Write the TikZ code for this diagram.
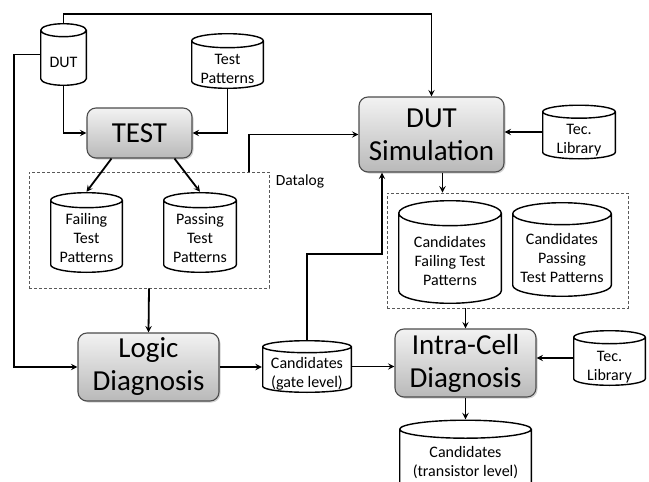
\documentclass[tikz,border=0pt]{standalone}
\usepackage{fontspec}
\setmainfont{Carlito}
\usetikzlibrary{calc,shadows}

% text of a data store, pushed down below the lid
\newcommand{\dbtext}[2]{\raisebox{0pt}[\dimexpr\height+#1\relax][\depth]{\begin{tabular}{@{}c@{}}#2\end{tabular}}}

\begin{document}
\begin{tikzpicture}[x=1pt,y=-1pt]
        \tikzset{lid/.store in=\lidr, lid=7pt}
        \tikzstyle{block}=[draw=black!70, line width=1.1pt, rounded corners=9pt, top color=gray!10, bottom color=gray!55,
                           drop shadow={opacity=0.35, shadow xshift=1.5pt, shadow yshift=-1.5pt},
                           align=center, inner sep=0pt, font=\fontsize{29}{33}\selectfont]
        \tikzstyle{store}=[rectangle, inner sep=0pt, font=\fontsize{16}{19}\selectfont,
                           path picture={
                             \draw[line width=1.4pt] let \p1=(path picture bounding box.north west),
                                                        \p2=(path picture bounding box.south east),
                                                        \n1={(\x2-\x1)/2-0.7pt} in
                               ({\x1+0.7pt},{\y1-0.7pt-\lidr}) -- ({\x1+0.7pt},{\y2+0.7pt+\lidr})
                               arc[start angle=180, end angle=360, x radius=\n1, y radius=\lidr]
                               -- ({\x2-0.7pt},{\y1-0.7pt-\lidr})
                               ({(\x1+\x2)/2},{\y1-0.7pt-\lidr}) ellipse [x radius=\n1, y radius=\lidr];
                           }]
        \tikzstyle{group}=[draw=black!65, line width=0.9pt, dash pattern=on 3pt off 2pt]
        \tikzstyle{arr}=[->, >=stealth, line width=1.8pt]

        \useasboundingbox (0,0) rectangle (649,482);
        \clip (0,0) rectangle (649,482);

        % dashed groups
        \node   (dl)    [group, minimum width=240, minimum height=116] at (149,230) {};
        \node   (d2)    [group, minimum width=241, minimum height=115] at (507.5,250.5) {};
        \node   (dlt)   [font=\fontsize{15.5}{18}\selectfont] at (300,181) {Datalog};

        % processing steps
        \node   (test)  [block, minimum width=105, minimum height=50] at (139.5,133) {TEST};
        \node   (sim)   [block, minimum width=145, minimum height=75] at (431.5,134.5) {DUT\\Simulation};
        \node   (logic) [block, minimum width=141, minimum height=68] at (148.5,367) {Logic\\Diagnosis};
        \node   (intra) [block, minimum width=141, minimum height=68] at (465.5,363) {Intra-Cell\\Diagnosis};

        % data
        \node   (dut)   [store, minimum width=47, minimum height=63, lid=6.5pt] at (63.5,54.5) {\dbtext{19pt}{DUT}};
        \node   (tp)    [store, minimum width=73, minimum height=50, lid=7pt] at (227.5,61) {\dbtext{18pt}{Test\\Patterns}};
        \node   (fail)  [store, minimum width=73, minimum height=81, lid=7.5pt] at (86.5,232.5) {\dbtext{15pt}{Failing\\Test\\Patterns}};
        \node   (pass)  [store, minimum width=74, minimum height=81, lid=7.5pt] at (200,232.5) {\dbtext{15pt}{Passing\\Test\\Patterns}};
        \node   (tec1)  [store, minimum width=74, minimum height=50, lid=6.5pt] at (579,132) {\dbtext{17pt}{Tec.\\Library}};
        \node   (cf)    [store, minimum width=104, minimum height=104, lid=12.5pt] at (450,252) {\dbtext{21pt}{Candidates\\Failing Test\\Patterns}};
        \node   (cp)    [store, minimum width=100, minimum height=95, lid=11pt] at (562,249.5) {\dbtext{21pt}{Candidates\\Passing\\Test Patterns}};
        \node   (gate)  [store, minimum width=90, minimum height=53, lid=6pt] at (307,366.5) {\dbtext{15pt}{Candidates\\(gate level)}};
        \node   (tec2)  [store, minimum width=73, minimum height=50, lid=6.5pt] at (609.5,358) {\dbtext{18pt}{Tec.\\Library}};
        \node   (trans) [store, minimum width=133, minimum height=75, lid=9pt] at (465.5,457) {\dbtext{12pt}{Candidates\\(transistor level)}};

        % connections
        \draw[arr] (dut.north) -- ++(0,-9) -| (sim.north);
        \draw[arr] (dut.west) -- ++(-26,0) |- (logic.west);
        \draw[arr] (dut.south) |- (test.west);
        \draw[arr] (tp.south) |- (test.east);
        \draw[arr] ([xshift=-28]test.south) -- (fail.north);
        \draw[arr] ([xshift=35]test.south) -- (pass.north);
        \draw[arr] ([xshift=100]dl.north) |- (sim.west);
        \draw[arr] (tec1.west) -- (tec1.west -| sim.east);
        \draw[arr] ([xshift=11]sim.south) -- ([xshift=11]sim.south |- d2.north);
        \draw[arr] (dl.south) -- (logic.north);
        \draw[arr] (logic.east) -- (logic.east -| gate.west);
        \draw[arr] (gate.north) -- ++(0,-86) -| ([xshift=-49.5]sim.south);
        \draw[arr] (gate.east) -- (gate.east -| intra.west);
        \draw[arr] (intra.north |- d2.south) -- (intra.north);
        \draw[arr] (tec2.west) -- (tec2.west -| intra.east);
        \draw[arr] (intra.south) -- (trans.north);

    \end{tikzpicture}
\end{document}
